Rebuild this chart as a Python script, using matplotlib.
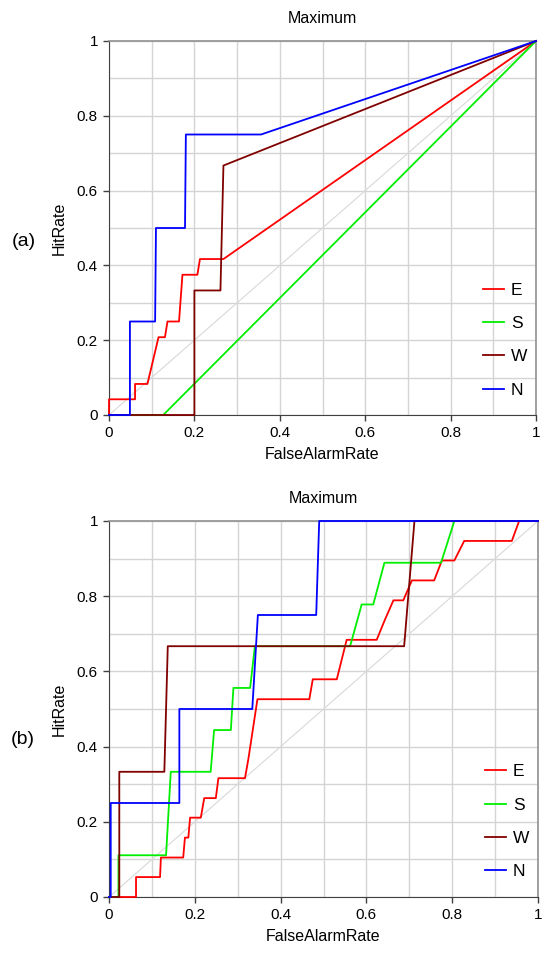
import matplotlib
matplotlib.use("Agg")
import matplotlib.pyplot as plt
import numpy as np

plt.rcParams["font.family"] = ["Liberation Sans", "DejaVu Sans"]

# panel (a)
E_a_x = [0, 0, 0.061, 0.061, 0.09, 0.116, 0.131, 0.137, 0.164, 0.172, 0.207, 0.213, 0.268, 1]
E_a_y = [0, 0.042, 0.042, 0.083, 0.083, 0.208, 0.208, 0.25, 0.25, 0.375, 0.375, 0.417, 0.417, 1]
S_a_x = [0, 0.127, 1]
S_a_y = [0, 0, 1]
W_a_x = [0, 0.2, 0.2, 0.261, 0.268, 1]
W_a_y = [0, 0, 0.333, 0.333, 0.667, 1]
N_a_x = [0, 0.049, 0.049, 0.108, 0.11, 0.178, 0.18, 0.356, 1]
N_a_y = [0, 0, 0.25, 0.25, 0.5, 0.5, 0.75, 0.75, 1]

# panel (b)
E_b_x = [0, 0.063, 0.063, 0.119, 0.121, 0.173, 0.177, 0.185, 0.189, 0.214, 0.222, 0.249,
         0.255, 0.317, 0.325, 0.346, 0.467, 0.475, 0.531, 0.554, 0.624, 0.643, 0.663, 0.686,
         0.706, 0.758, 0.776, 0.805, 0.828, 0.939, 0.956, 1]
E_b_y = [0, 0, 0.053, 0.053, 0.105, 0.105, 0.158, 0.158, 0.211, 0.211, 0.263, 0.263,
         0.316, 0.316, 0.368, 0.526, 0.526, 0.579, 0.579, 0.684, 0.684, 0.737, 0.789, 0.789,
         0.842, 0.842, 0.895, 0.895, 0.947, 0.947, 1, 1]
S_b_x = [0, 0.022, 0.022, 0.133, 0.144, 0.237, 0.245, 0.284, 0.29, 0.329, 0.34, 0.562,
         0.589, 0.616, 0.642, 0.774, 0.805, 1]
S_b_y = [0, 0, 0.111, 0.111, 0.333, 0.333, 0.444, 0.444, 0.556, 0.556, 0.667, 0.667,
         0.778, 0.778, 0.889, 0.889, 1, 1]
W_b_x = [0, 0.024, 0.024, 0.129, 0.137, 0.688, 0.712, 1]
W_b_y = [0, 0, 0.333, 0.333, 0.667, 0.667, 1, 1]
N_b_x = [0, 0.004, 0.004, 0.164, 0.164, 0.334, 0.347, 0.483, 0.49, 1]
N_b_y = [0, 0, 0.25, 0.25, 0.5, 0.5, 0.75, 0.75, 1, 1]

labels = ["E", "S", "W", "N"]
colors = ["#ff0000", "#00ee00", "#800000", "#0000ff"]
ticks = [0, 0.2, 0.4, 0.6, 0.8, 1]
tick_labels = ["0", "0.2", "0.4", "0.6", "0.8", "1"]


def draw_panel(ax, series, tag, tag_y):
    ax.set_xlim(0, 1)
    ax.set_ylim(0, 1)
    ax.set_xticks(np.arange(0, 1.01, 0.1), minor=True)
    ax.set_yticks(np.arange(0, 1.01, 0.1), minor=True)
    ax.set_xticks(ticks)
    ax.set_yticks(ticks)
    ax.set_xticklabels(tick_labels)
    ax.set_yticklabels(tick_labels)
    ax.grid(True, which="both", color="#d4d4d4", linewidth=1.0)
    ax.set_axisbelow(True)
    ax.tick_params(which="major", direction="out", length=4, width=1,
                   color="#404040", labelsize=11, pad=4)
    ax.tick_params(which="minor", length=0)
    for side in ["left", "bottom"]:
        ax.spines[side].set_color("#404040")
    for side in ["top", "right"]:
        ax.spines[side].set_color("#909090")
        ax.spines[side].set_linewidth(1.2)

    ax.plot([0, 1], [0, 1], color="#d8d8d8", linewidth=0.8, zorder=2)
    for (x, y), lab, c in zip(series, labels, colors):
        ax.plot(x, y, color=c, linewidth=1.3, label=lab, zorder=3, clip_on=False)

    ax.set_title("Maximum", fontsize=11.5, pad=13)
    ax.set_xlabel("FalseAlarmRate", fontsize=11.5, labelpad=5)
    ax.set_ylabel("HitRate", fontsize=11.5, labelpad=7)
    ax.legend(loc="center left", bbox_to_anchor=(0.84, 0.2), frameon=False,
              fontsize=12.5, handlelength=1.2, handletextpad=0.4, labelspacing=1.05)
    ax.text(-0.2, tag_y, tag, transform=ax.transAxes, fontsize=14,
            ha="center", va="center")


fig = plt.figure(figsize=(5.42, 9.61), dpi=100)
ax1 = fig.add_axes([109 / 542, 1 - 415 / 961, 427 / 542, 374 / 961])
ax2 = fig.add_axes([109 / 542, 1 - 897 / 961, 429 / 542, 376 / 961])

draw_panel(ax1, [(E_a_x, E_a_y), (S_a_x, S_a_y), (W_a_x, W_a_y), (N_a_x, N_a_y)],
           "(a)", 0.463)
draw_panel(ax2, [(E_b_x, E_b_y), (S_b_x, S_b_y), (W_b_x, W_b_y), (N_b_x, N_b_y)],
           "(b)", 0.418)

fig.savefig("out.png", dpi=100)
